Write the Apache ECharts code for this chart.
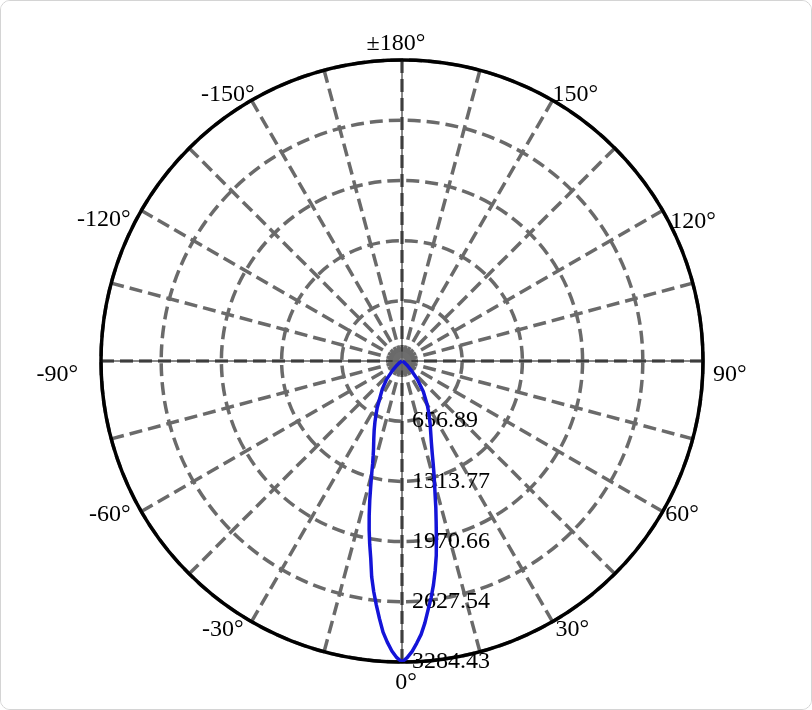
<!DOCTYPE html>
<html><head><meta charset="utf-8">
<script src="https://cdn.jsdelivr.net/npm/echarts@6/dist/echarts.min.js"></script>
<style>
html,body{margin:0;padding:0;background:#fff;}
#chart{width:812px;height:710px;box-sizing:border-box;border:1px solid #d4d4d4;border-radius:10px;overflow:hidden;}
</style></head><body>
<div id="chart"></div>
<script>
// Luminous intensity (cd) vs. angle (deg); 0° = beam axis (bottom), + toward 90° (right)
const angleDeg = [-90,-80,-70,-60,-55,-50,-45,-40,-35,-30,-28,-26,-24,-22,-20,-18,-17,-16,-15,-14,-13,-12,-11,-10,-9,-8,-7,-6,-5,-4,-3,-2,-1,
  0,1,2,3,4,5,6,7,8,9,10,11,12,13,14,15,16,17,18,20,22,24,26,28,30,35,40,45,50,55,60,70,80,90];
const candela = [0,2,6,18,38,75,145,262,375,500,575,645,725,810,900,1005,1075,1160,1280,1412,1565,1722,1878,2030,2180,2378,2534,2678,2822,2966,3072,3166,3238,
  3284.43,3238,3170,3082,2990,2868,2728,2604,2467,2314,2154,1966,1792,1640,1490,1370,1260,1160,1070,935,835,755,680,612,550,405,262,140,72,38,18,6,2,0];
const radiusTicks = [656.89, 1313.77, 1970.66, 2627.54, 3284.43];
const angleTicks = [0, 30, 60, 90, 120, 150, 180, 210, 240, 270, 300, 330];
const crossAngles = [[90, 270], [0, 180]];
const centerDot = [[0, 0]];

const rMax = radiusTicks[radiusTicks.length - 1];
const serif = 'Liberation Serif';

// per-label text padding [top, right, bottom, left] (label placement styling)
const labelPad = {
  0: [117, 0, 0, 8], 30: [78, 0, 0, 28], 60: [33, 0, 0, 46], 90: [28, 0, 0, 60],
  120: [0, 0, 4, 51], 150: [0, 0, 74, 25], 180: [0, 12, 109, 0], 210: [0, 22, 74, 0],
  240: [0, 54, 7, 0], 270: [28, 73, 0, 0], 300: [33, 54, 0, 0], 330: [78, 33, 0, 0]
};
const rich = {};
angleTicks.forEach(v => {
  rich['a' + v] = {fontFamily: serif, fontSize: 24, lineHeight: 24, color: '#000', padding: labelPad[v]};
});

const chart = echarts.init(document.getElementById('chart'), null, {renderer: 'canvas'});
const series = [];
crossAngles.forEach(pair => {
  series.push({
    type: 'line', coordinateSystem: 'polar', silent: true, symbol: 'none', z: 2,
    data: pair.map(a => [rMax, a]),
    lineStyle: {color: '#111', width: 1}
  });
});
series.push({
  type: 'scatter', coordinateSystem: 'polar', silent: true, z: 3,
  data: centerDot, symbolSize: 19, itemStyle: {color: '#6e6e6e'}
});
series.push({
  type: 'line', coordinateSystem: 'polar', silent: true, symbol: 'none', z: 4,
  data: angleDeg.map((a, i) => [candela[i], a < 0 ? a + 360 : a]),
  lineStyle: {color: '#1414d8', width: 3.5}
});

chart.setOption({
  animation: false,
  backgroundColor: '#fff',
  polar: {center: [401, 360], radius: 301},
  angleAxis: {
    type: 'value', min: 0, max: 360, interval: 15,
    startAngle: 270, clockwise: false,
    axisLine: {show: true, lineStyle: {color: '#000', width: 3.5}},
    axisTick: {show: false},
    splitLine: {show: true, lineStyle: {color: '#6a6a6a', width: 3.5, type: [13, 6]}},
    axisLabel: {
      show: true, margin: -50, color: '#000', fontFamily: serif, fontSize: 24,
      rich: rich,
      formatter: v => {
        if (v % 30 !== 0 || v === 360) return '';
        const t = v === 180 ? '\u00b1180\u00b0' : (v > 180 ? v - 360 : v) + '\u00b0';
        return '{a' + v + '|' + t + '}';
      }
    }
  },
  radiusAxis: {
    type: 'value', min: 0, max: rMax, interval: rMax / 5,
    axisLine: {show: false},
    axisTick: {show: false},
    splitLine: {show: true, lineStyle: {color: '#6a6a6a', width: 3.5, type: [13, 6]}},
    axisLabel: {
      show: true, showMinLabel: false, margin: 10, color: '#000', fontFamily: serif, fontSize: 24,
      formatter: v => v.toFixed(2)
    }
  },
  series: series
});
</script>
</body></html>
